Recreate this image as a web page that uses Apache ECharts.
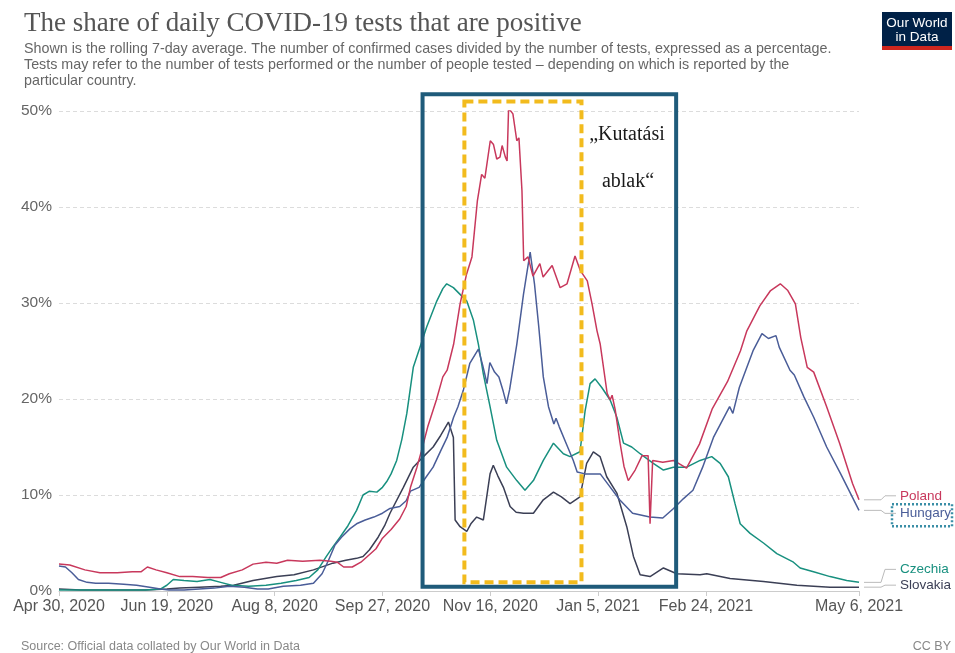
<!DOCTYPE html>
<html>
<head>
<meta charset="utf-8">
<title>The share of daily COVID-19 tests that are positive</title>
<script src="https://cdn.jsdelivr.net/npm/echarts@6.0.0/dist/echarts.min.js"></script>
<style>
  html, body { margin: 0; padding: 0; background: #fff; }
  #chart { width: 955px; height: 653px; }
</style>
</head>
<body>
<div id="chart"></div>
<script>
// x values are days after Apr 30, 2020
const startDate = Date.UTC(2020, 3, 30);
const tickDays = [0, 50, 100, 150, 200, 250, 300, 371];
const months = ['Jan', 'Feb', 'Mar', 'Apr', 'May', 'Jun', 'Jul', 'Aug', 'Sep', 'Oct', 'Nov', 'Dec'];

const countries = ['Poland', 'Hungary', 'Czechia', 'Slovakia'];
const colors = ['#c8385c', '#4a5d98', '#18907f', '#3b3f55'];

const poland = [[0,2.8],[5,2.7],[12,2.2],[19,1.9],[27,1.9],[34,2.0],[38,2.0],[41,2.5],[45,2.2],[50,1.9],[56,1.5],[62,1.5],[69,1.4],[75,1.4],[79,1.8],[85,2.2],[90,2.8],[96,3.0],[101,2.9],[106,3.2],[113,3.1],[121,3.2],[126,3.1],[129,3.0],[132,2.5],[136,2.5],[140,3.0],[143,3.6],[147,4.4],[150,5.5],[154,6.4],[158,7.5],[161,8.8],[163,10.8],[166,12.9],[168,14.5],[171,17.1],[175,19.9],[178,22.3],[180,23.0],[183,25.7],[186,29.9],[189,33.0],[191.5,34.8],[194,40.6],[196,43.4],[197.5,43.0],[200,46.9],[201.5,46.5],[203,45.0],[204.5,45.2],[205.5,46.4],[207,45.2],[207.8,44.8],[208.5,50.3],[210.5,49.7],[212.3,46.9],[213.3,47.2],[214.7,41.7],[215.5,34.4],[217.5,34.8],[219.8,32.8],[223,34.1],[224.5,32.7],[228.7,33.9],[232.4,31.6],[235.6,32.0],[239.3,34.9],[241.7,33.4],[245,32.3],[247.2,29.9],[249.5,27.1],[251,25.7],[254.2,20.6],[255.6,19.9],[256.5,20.4],[258,18.8],[260.2,15.4],[262,13.0],[264,11.5],[267.2,12.6],[270.4,14.1],[273.2,14.1],[274.1,7.0],[275.3,13.6],[280,13.4],[285,13.6],[291,12.8],[297,15.3],[303,19.0],[310,21.8],[316,25.0],[319,27.1],[325,29.7],[330,31.3],[334.5,32.0],[338,31.3],[341.5,29.9],[344,26.4],[347,23.3],[350,22.8],[356,19.2],[362,15.4],[368,11.2],[371,9.5]];

const hungary = [[0,2.6],[3,2.5],[6,1.9],[9,1.2],[13,0.9],[17,0.8],[23,0.8],[30,0.7],[36,0.6],[42,0.4],[47,0.2],[51,0.1],[58,0.1],[65,0.2],[72,0.3],[79,0.5],[86,0.4],[92,0.2],[97,0.2],[104,0.5],[112,0.6],[118,0.8],[122,1.8],[125,3.2],[128,4.8],[131,5.6],[135,6.5],[138,7.0],[142,7.4],[146,7.7],[150,8.1],[153.5,8.6],[158,8.8],[161,9.4],[163,10.4],[167,10.8],[170,11.8],[173.5,12.9],[177,14.6],[180,16.0],[183,18.1],[185,19.2],[187.5,20.9],[190.5,23.7],[194.5,25.2],[196.5,23.5],[198.5,21.6],[199.8,23.8],[202,22.8],[204,22.3],[206,20.8],[207.5,19.5],[209,21.0],[212.3,25.7],[215.4,30.9],[218.5,35.3],[220.5,32.0],[222.5,27.5],[224.6,22.3],[227,19.2],[229.5,17.4],[230.5,18.0],[232,17.1],[235.5,15.2],[238.5,13.6],[240.3,12.4],[244,12.2],[251,12.2],[255,11.0],[260,9.5],[266,8.1],[274,7.7],[280,7.6],[285,8.6],[289.5,9.6],[294,10.5],[298.5,12.9],[303.5,16.0],[311,19.2],[312.5,18.5],[315.5,21.2],[319,23.3],[322,25.1],[326,26.8],[329,26.3],[332.5,26.6],[334,25.4],[339,23.0],[341,22.5],[345.5,20.2],[350,18.1],[356,15.0],[362.5,12.2],[371,8.4]];

const czechia = [[0,0.1],[10,0.1],[25,0.1],[40,0.1],[47,0.2],[50,0.6],[53,1.2],[58,1.1],[64,1.0],[70,1.2],[75,0.9],[80,0.6],[88,0.5],[96,0.6],[103,0.8],[110,1.1],[116,1.4],[120,2.2],[124,3.6],[127,4.6],[130.3,5.6],[134,6.8],[138,8.4],[141,10.0],[144,10.4],[147.4,10.3],[150,10.8],[152,11.4],[154,12.2],[156.6,13.6],[159,15.8],[161.3,18.5],[164.3,23.3],[167.4,25.4],[170.5,27.5],[175.2,30.2],[178,31.5],[179.8,32.0],[182.9,31.6],[186,30.9],[189.1,30.2],[192.2,28.2],[194.5,25.7],[196.8,22.6],[199.9,19.2],[203,15.7],[207.6,12.9],[212.3,11.5],[216.1,10.5],[220,11.5],[224.6,13.6],[229.3,15.4],[233.9,14.3],[237,14.0],[241.6,14.5],[244,18.8],[246.3,21.6],[248.6,22.1],[251.7,21.2],[255.6,19.9],[258.7,18.1],[261.8,15.4],[265.6,15.0],[269.5,14.3],[275.6,13.3],[280.3,12.6],[284.9,12.9],[291.1,12.9],[297.3,13.6],[302.7,14.0],[306.6,13.3],[310.4,11.9],[313.5,9.1],[315.9,7.0],[320.5,6.0],[326.7,5.0],[332.9,3.9],[340.6,3.0],[341.4,3.2],[343.7,2.4],[349.9,2.0],[357.6,1.5],[365.3,1.1],[371,0.9]];

const slovakia = [[0,0.2],[10,0.1],[25,0.1],[40,0.1],[50,0.2],[56,0.3],[65,0.4],[75,0.5],[81,0.6],[90,1.1],[101,1.5],[109,1.7],[118,2.2],[127,2.9],[133,3.2],[138,3.4],[141,3.6],[144,4.3],[148,5.6],[151,6.8],[153.5,8.1],[159.7,10.8],[164.3,12.9],[169,14.0],[173.5,15.0],[177,16.2],[180.6,17.6],[182.9,16.0],[183.7,7.4],[186,6.7],[189.1,6.2],[191,7.0],[193.7,7.7],[196.8,7.4],[199.9,12.2],[201.4,13.1],[203.5,12.0],[206.1,10.8],[209.2,8.8],[212,8.2],[215.4,8.1],[220,8.1],[224.6,9.5],[229.3,10.3],[233,9.8],[237,9.1],[241.6,9.8],[244.7,13.3],[247.8,14.5],[250.9,14.0],[254,11.9],[258.7,10.2],[263.3,6.7],[266.4,3.6],[269.5,1.7],[274.1,1.5],[280.3,2.4],[286.5,1.8],[297.3,1.7],[300.4,1.8],[311.2,1.3],[326.7,1.0],[342.2,0.6],[357.6,0.4],[371,0.4]];

const seriesData = [poland, hungary, czechia, slovakia];

// highlighted periods, in days and percent
const outerWindow = { from: 168.6, to: 286.2, low: 0.45, high: 51.75 };
const innerWindow = { from: 188, to: 242.3, low: 0.9, high: 51.0 };

function dayLabel(d) {
  const t = new Date(startDate + d * 86400000);
  return months[t.getUTCMonth()] + ' ' + t.getUTCDate() + ', ' + t.getUTCFullYear();
}

const sans = '"Liberation Sans", Arial, sans-serif';

const option = {
  animation: false,
  backgroundColor: '#fff',
  title: {
    text: 'The share of daily COVID-19 tests that are positive',
    subtext: 'Shown is the rolling 7-day average. The number of confirmed cases divided by the number of tests, expressed as a percentage.\n' +
      'Tests may refer to the number of tests performed or the number of people tested \u2013 depending on which is reported by the\n' +
      'particular country.',
    left: 19,
    top: 5,
    itemGap: 4,
    textStyle: { fontFamily: '"Liberation Serif", serif', fontSize: 27, fontWeight: 'normal', color: '#555' },
    subtextStyle: { fontFamily: sans, fontSize: 14.3, lineHeight: 16, color: '#666' }
  },
  grid: { left: 59, right: 96, top: 111, bottom: 62 },
  xAxis: {
    type: 'value',
    min: 0,
    max: 371,
    axisLine: { show: true, lineStyle: { color: '#ccc' } },
    axisTick: { show: true, customValues: tickDays, length: 5, lineStyle: { color: '#ccc' } },
    axisLabel: {
      customValues: tickDays,
      formatter: v => dayLabel(v),
      fontFamily: sans, fontSize: 16, color: '#555', margin: 8
    },
    splitLine: { show: false }
  },
  yAxis: {
    type: 'value',
    min: 0,
    max: 50,
    interval: 10,
    axisLine: { show: false },
    axisTick: { show: false },
    axisLabel: { formatter: '{value}%', fontFamily: sans, fontSize: 15.5, color: '#666', margin: 7 },
    splitLine: { lineStyle: { color: '#dcdcdc', type: [4, 3] } }
  },
  series: countries.map((name, i) => ({
    name: name,
    type: 'line',
    data: seriesData[i],
    showSymbol: false,
    symbol: 'none',
    lineStyle: { color: colors[i], width: 1.5 },
    itemStyle: { color: colors[i] },
    z: 4 - i
  }))
};

const chart = echarts.init(document.getElementById('chart'));
chart.setOption(option);

function px(d, v) {
  return chart.convertToPixel({ gridIndex: 0 }, [d, v]);
}

function windowRect(w, style) {
  const a = px(w.from, w.high);
  const b = px(w.to, w.low);
  return { type: 'rect', z: 20, shape: { x: a[0], y: a[1], width: b[0] - a[0], height: b[1] - a[1] }, style: style };
}

function txt(text, x, y, font, fill, align) {
  return {
    type: 'text', x: x, y: y, z: 30,
    style: { text: text, font: font, fill: fill, align: align || 'left', textAlign: align || 'left', verticalAlign: 'middle', textVerticalAlign: 'middle' }
  };
}

const graphics = [];
graphics.push(windowRect(outerWindow, { fill: 'none', stroke: '#1f5b7a', lineWidth: 4 }));
graphics.push(windowRect(innerWindow, { fill: 'none', stroke: '#f2bb1d', lineWidth: 4, lineDash: [9, 5] }));

const serif = '20px "Liberation Serif", serif';
graphics.push(txt('\u201eKutat\u00e1si', 627, 135, serif, '#1a1a1a', 'center'));
graphics.push(txt('ablak\u201c', 628, 182, serif, '#1a1a1a', 'center'));

// right-hand labels with connectors
const labelShift = [-4, 3, -13, -2];
countries.forEach((name, i) => {
  const last = seriesData[i][seriesData[i].length - 1];
  const p = px(last[0], last[1]);
  const ly = p[1] + labelShift[i];
  graphics.push({
    type: 'polyline', z: 25,
    shape: { points: [[p[0] + 5, p[1]], [p[0] + 22, p[1]], [p[0] + 26, ly], [p[0] + 37, ly]] },
    style: { stroke: '#bbb', lineWidth: 1, fill: null }
  });
  graphics.push(txt(name, p[0] + 41, ly, '13.5px ' + sans, colors[i]));
  if (name === 'Hungary') {
    graphics.push({
      type: 'rect', z: 26,
      shape: { x: p[0] + 33, y: ly - 9, width: 60, height: 22 },
      style: { fill: 'none', stroke: '#3a8ea6', lineWidth: 2.5, lineDash: [2, 2] }
    });
  }
});

// logo
graphics.push({ type: 'rect', z: 30, shape: { x: 882, y: 12, width: 70, height: 38 }, style: { fill: '#002147' } });
graphics.push({ type: 'rect', z: 31, shape: { x: 882, y: 46, width: 70, height: 4 }, style: { fill: '#ce261e' } });
graphics.push(txt('Our World', 917, 23, '13.5px ' + sans, '#fff', 'center'));
graphics.push(txt('in Data', 917, 37, '13.5px ' + sans, '#fff', 'center'));

// footer
graphics.push(txt('Source: Official data collated by Our World in Data', 21, 647, '12.5px ' + sans, '#888'));
graphics.push(txt('CC BY', 951, 647, '12.5px ' + sans, '#888', 'right'));

chart.setOption({ graphic: graphics });
</script>
</body>
</html>
